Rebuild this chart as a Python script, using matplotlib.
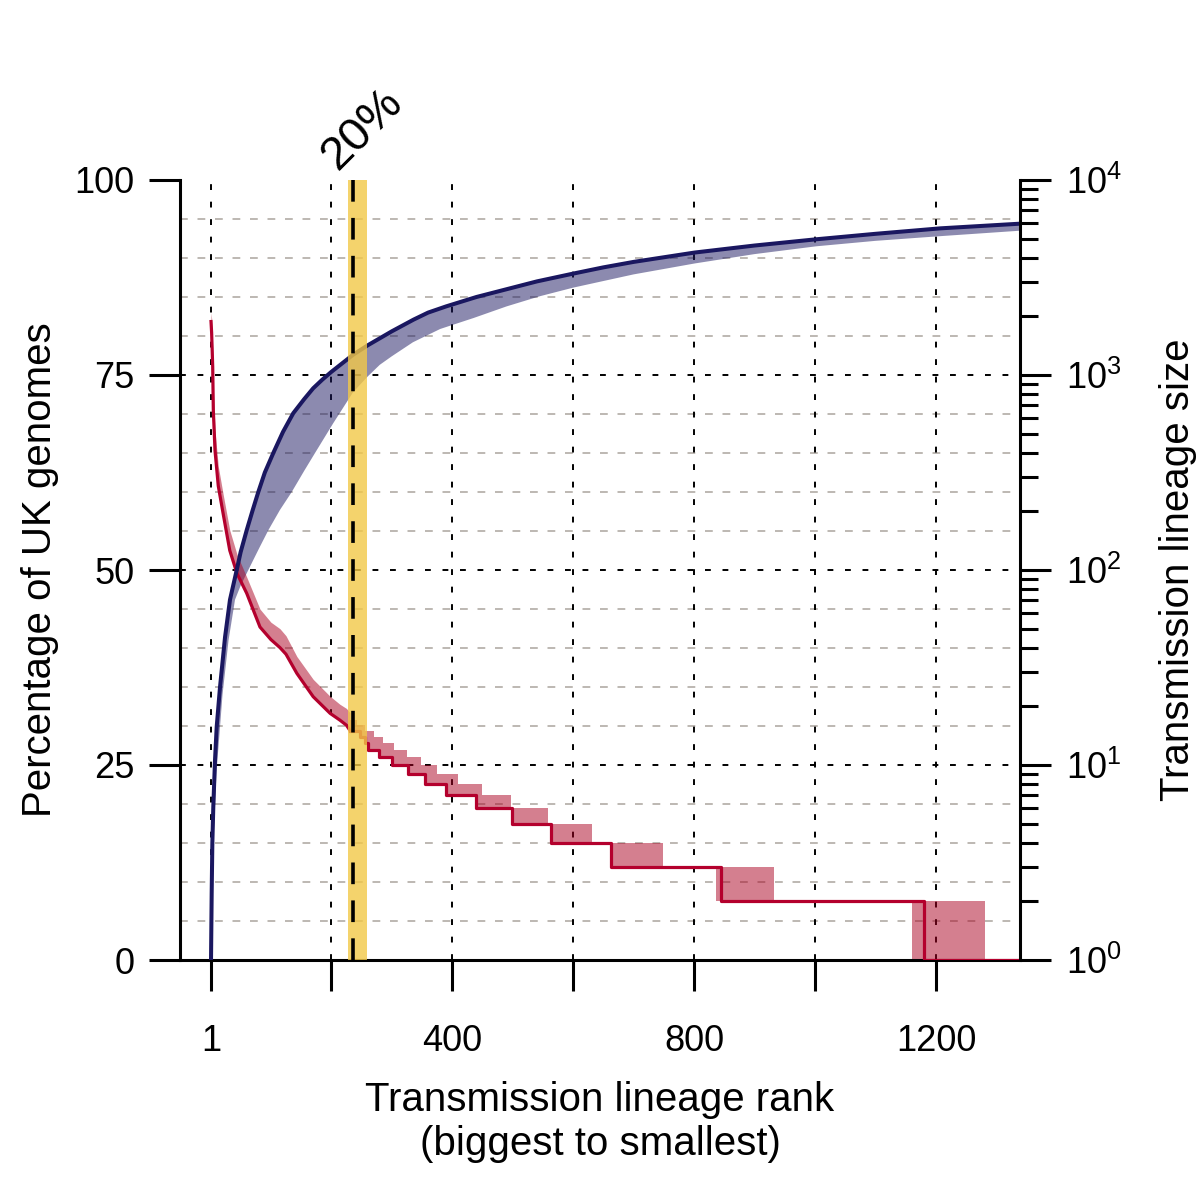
import numpy as np
import matplotlib
matplotlib.use("Agg")
import matplotlib.pyplot as plt
from matplotlib.ticker import FixedLocator, LogLocator, NullFormatter

plt.rcParams['font.family'] = ['Liberation Sans', 'DejaVu Sans']
plt.rcParams['mathtext.fontset'] = 'custom'
plt.rcParams['mathtext.rm'] = 'Liberation Sans'
plt.rcParams['mathtext.it'] = 'Liberation Sans:italic'
plt.rcParams['mathtext.bf'] = 'Liberation Sans:bold'

# cumulative percentage of UK genomes (left axis), line = upper edge of ribbon
cum_rank = [1, 2.1, 3.2, 4.8, 7.6, 10.4, 15.9, 24.2, 32.4, 43.5, 50, 60, 70, 79.2, 90,
            104, 120, 137, 155, 170, 185, 200, 218, 236, 260, 280, 300, 336, 360,
            390, 440, 490, 540, 600, 650, 700, 801, 900, 1002, 1100, 1207, 1339]
cum_pct = [0, 8.6, 15, 19.7, 25.6, 29.9, 35, 41.4, 46.2, 50, 52.3, 55.1, 57.7, 60, 62.5,
           65, 67.7, 70.1, 71.9, 73.3, 74.4, 75.4, 76.5, 77.6, 78.8, 79.7, 80.6, 82.1, 83.0,
           83.8, 85.0, 86.0, 87.0, 88.0, 88.8, 89.5, 90.7, 91.6, 92.4, 93.1, 93.8, 94.4]
cum_lo_rank = [1, 5, 10, 20, 30, 40.7, 50, 62.7, 80, 95.8, 115, 134.5, 155, 173, 203,
               236, 260, 280, 300, 335, 380, 435, 490, 545, 600, 700, 801, 900,
               1002, 1100, 1207, 1339]
cum_lo_pct = [0, 15, 24, 34, 41, 46.2, 48, 50, 52.7, 55.1, 57.7, 60, 62.7, 65, 68.8,
              72.8, 74.8, 76.3, 77.4, 79.2, 80.9, 82.3, 83.8, 85.1, 86.2, 87.9, 89.3, 90.5,
              91.5, 92.2, 92.8, 93.5]

# transmission lineage size (right axis, log), smooth head of the curve
size_rank = [1, 2, 3.8, 4.8, 7.6, 13, 21, 32, 44, 60, 82, 100, 115, 125, 143,
             170, 198, 214, 225, 231]
size_val = [1880, 1650, 1100, 660, 410, 270, 195, 126, 96, 76, 51, 44, 40, 37,
            29.5, 22.4, 18.4, 17, 16, 15]
size_hi = [2090, 1950, 1350, 850, 520, 340, 245, 160, 120, 92, 63, 54, 50, 46,
           36, 27.5, 22.5, 20.5, 19.5, 18.5]

# step tail of the curve
step_rank = [231, 247, 255, 261, 279, 301, 326, 355, 390, 440, 499, 563, 662, 844, 1180, 1339]
step_size = [15, 14, 13, 12, 11, 10, 9, 8, 7, 6, 5, 4, 3, 2, 1, 1]
band_lo_rank = [231, 247, 255, 261, 279, 301, 326, 355, 390, 440, 499, 563, 662, 836, 1161, 1339]
band_lo_size = [15, 14, 13, 12, 11, 10, 9, 8, 7, 6, 5, 4, 3, 2, 1, 1]
band_hi_rank = [231, 243, 255, 271, 285, 304, 325, 348, 374, 409, 450, 497, 559, 631, 748,
                932, 1281, 1339]
band_hi_size = [17, 16, 15, 14, 13, 12, 11, 10, 9, 8, 7, 6, 5, 4, 3, 2, 1, 1]

cutoff_rank = 235.8
cutoff_band = (227.6, 258.9)

x_ticks = [1, 200, 400, 600, 800, 1000, 1200]
x_labels = ['1', '', '400', '', '800', '', '1200']
y_ticks = [0, 25, 50, 75, 100]
size_ticks = [1, 10, 100, 1000, 10000]
size_labels = [r'$10^{0}$', r'$10^{1}$', r'$10^{2}$', r'$10^{3}$', r'$10^{4}$']

navy = '#1a1760'
red = '#b4002d'

fig = plt.figure(figsize=(12, 12), dpi=100)
ax = fig.add_axes([0.15, 0.2, 0.7, 0.65])
ax2 = ax.twinx()
ax2.set_yscale('log')
ax2.set_ylim(1, 1e4)

xlim = (-50.3, 1339)

# grid
minor_pct = [p for p in range(5, 100, 5) if p % 25 != 0]
for p in minor_pct:
    ax.axhline(p, color='#bdb8b2', lw=1.4, ls=(0, (4, 5)), zorder=0.5)
for p in [25, 50, 75]:
    ax.axhline(p, color='black', lw=1.4, ls=(0, (3, 6)), zorder=0.6)
for xv in x_ticks:
    ax.axvline(xv, color='black', lw=1.4, ls=(0, (3, 6)), zorder=0.6)

# blue ribbon + line
ax.fill(np.concatenate([cum_rank, cum_lo_rank[::-1]]),
        np.concatenate([cum_pct, cum_lo_pct[::-1]]),
        color=navy, alpha=0.5, lw=0, zorder=2)

# red ribbon + line on the log scale of ax2
tr = ax2.transData
ax.fill_between(size_rank, size_val, size_hi, color='#aa0020', alpha=0.5,
                lw=0, transform=tr, zorder=2.5)
grid = np.union1d(band_lo_rank, band_hi_rank)
lo = np.array(band_lo_size)[np.searchsorted(band_lo_rank, grid, side='right') - 1]
hi = np.array(band_hi_size)[np.searchsorted(band_hi_rank, grid, side='right') - 1]
ax.fill_between(grid, lo, hi, step='post', color='#aa0020', alpha=0.5,
                lw=0, transform=tr, zorder=2.5)
ax.plot(size_rank, size_val, color=red, lw=2.3, transform=tr, zorder=3,
        solid_joinstyle='round')
ax.plot(step_rank, step_size, color=red, lw=2.3, drawstyle='steps-post',
        transform=tr, zorder=3)

ax.plot(cum_rank, cum_pct, color=navy, lw=2.9, zorder=3.5, solid_joinstyle='round')

# 20% cut-off
ax.axvspan(cutoff_band[0], cutoff_band[1], color='#f2c847', alpha=0.8, lw=0, zorder=4)
ax.axvline(cutoff_rank, color='black', lw=2.6, ls=(0, (6, 4.5)), zorder=5)
ax.text(251, 106.5, '20%', rotation=45, rotation_mode='anchor', ha='center',
        va='center', fontsize=34, clip_on=False)

ax.set_xlim(*xlim)
ax.set_ylim(0, 100)
ax.set_xticks(x_ticks)
ax.set_xticklabels(x_labels)
ax.set_yticks(y_ticks)
ax.tick_params(axis='x', direction='out', length=22, width=2.2, pad=24, labelsize=26)
ax.tick_params(axis='y', direction='out', length=22, width=2.2, pad=11, labelsize=26)

ax2.yaxis.set_major_locator(FixedLocator(size_ticks))
ax2.set_yticklabels(size_labels)
ax2.yaxis.set_minor_locator(LogLocator(base=10, subs=range(2, 10)))
ax2.yaxis.set_minor_formatter(NullFormatter())
ax2.tick_params(axis='y', which='major', direction='out', length=22, width=2.2,
                pad=11, labelsize=26)
ax2.tick_params(axis='y', which='minor', direction='out', length=13, width=2.2)

for s in ['top', 'right']:
    ax.spines[s].set_visible(False)
for s in ['top', 'left', 'bottom']:
    ax2.spines[s].set_visible(False)
for a in (ax, ax2):
    for s in a.spines.values():
        s.set_linewidth(2.2)

ax.set_ylabel('Percentage of UK genomes', fontsize=29, va='center')
ax.yaxis.set_label_coords(-0.1667, 0.5)
ax2.set_ylabel('Transmission lineage size', fontsize=29, va='center')
ax2.yaxis.set_label_coords(1.188, 0.5)
ax.set_xlabel('Transmission lineage rank\n(biggest to smallest)', fontsize=29,
              va='center', linespacing=1.2)
ax.xaxis.set_label_coords(0.5, -0.2077)

fig.savefig('out.png', dpi=100)
